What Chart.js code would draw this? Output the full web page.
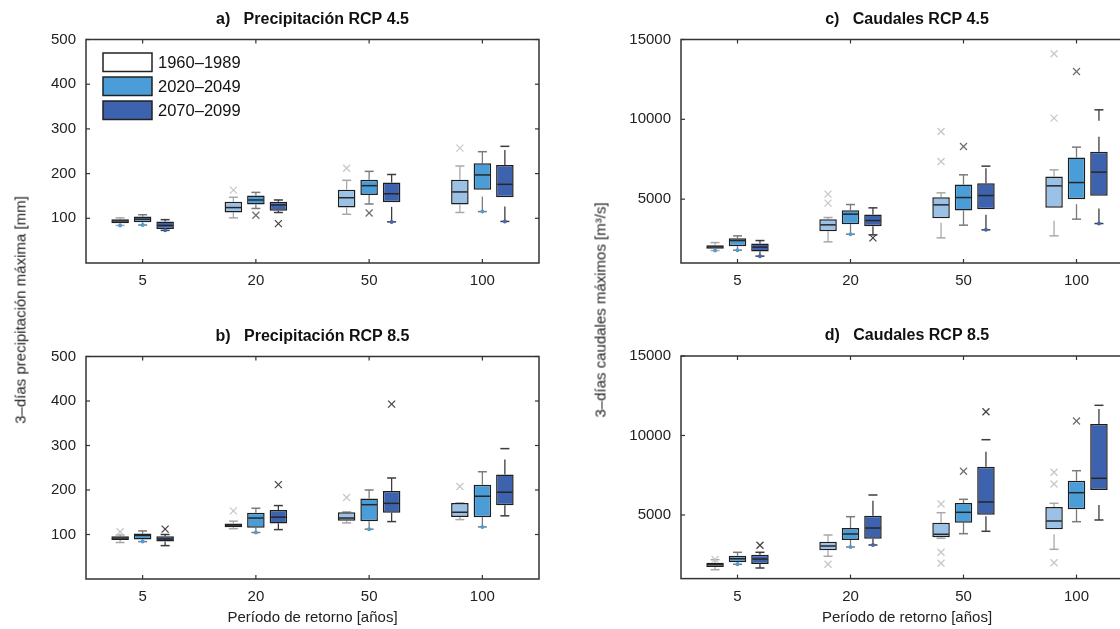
<!DOCTYPE html>
<html>
<head>
<meta charset="utf-8">
<script src="https://cdn.jsdelivr.net/npm/chart.js@4.4.1/dist/chart.umd.min.js"></script>
<style>
  html, body { margin: 0; padding: 0; background: #fff; }
  #page { position: relative; width: 1120px; height: 629px; overflow: hidden; background: #fff;
          font-family: 'Liberation Sans', Arial, sans-serif; }
  canvas { position: absolute; }
  .ylab { position: absolute; font-size: 15px; color: #222; white-space: nowrap;
          transform: translate(-50%, -50%) rotate(-90deg); }
</style>
</head>
<body>
<div id="page">
  <canvas id="pa" width="560" height="300" style="left:0;top:0"></canvas>
  <canvas id="pb" width="560" height="329" style="left:0;top:300px"></canvas>
  <canvas id="pc" width="600" height="300" style="left:580px;top:0"></canvas>
  <canvas id="pd" width="600" height="329" style="left:580px;top:300px"></canvas>
  <div class="ylab" style="left:20px;top:310px">3–días precipitación máxima [mm]</div>
  <div class="ylab" style="left:600px;top:310px">3–días caudales máximos [m³/s]</div>
</div>
<script>
const categories = ['5', '20', '50', '100'];
const periods = ['1960–1989', '2020–2049', '2070–2099'];
const precipTicks = [100, 200, 300, 400, 500];
const caudalTicks = [5000, 10000, 15000];

// cada caja: [min, q1, mediana, q3, max] por período de retorno
const precip45_1960 = [[84, 89, 94, 98, 101], [101, 113, 124, 137, 147], [109, 124, 146, 164, 185], [113, 131, 159, 186, 217]];
const precip45_2020 = [[85, 91, 98, 104, 108], [122, 131, 141, 151, 158], [132, 152, 173, 186, 205], [115, 164, 197, 223, 249]];
const precip45_2070 = [[73, 76, 84, 93, 97], [113, 117, 130, 137, 141], [92, 136, 155, 180, 198], [93, 147, 176, 219, 261]];
const precip45_out1960 = [[], [163], [212], [257]];
const precip45_out2020 = [[], [107], [112], []];
const precip45_out2070 = [[], [88], [], []];
const precip45_dots = [[1, 0, 0, 0], [1, 0, 0, 1], [1, 0, 1, 1]];

const precip85_1960 = [[82, 87.5, 92, 96, 99], [113, 116.5, 121, 125, 130], [126, 131, 137, 150, 151], [133.5, 139.5, 150, 171, 171]];
const precip85_2020 = [[84, 89, 98, 102, 108], [104.5, 115, 137, 149, 159], [112, 130, 167, 181, 200], [117, 139, 186, 212, 241]];
const precip85_2070 = [[75, 84, 90, 96, 100], [111, 125, 139, 155, 165], [129, 149, 170, 198, 227], [142, 166, 195, 235, 293]];
const precip85_out1960 = [[106], [153], [183], [208]];
const precip85_out2020 = [[], [], [], []];
const precip85_out2070 = [[112], [212], [393], []];
const precip85_dots = [[0, 0, 0, 0], [1, 1, 1, 1], [0, 0, 0, 0]];

const caudal45_1960 = [[1780, 1886, 2010, 2118, 2280], [2325, 2995, 3390, 3747, 3850], [2575, 3810, 4643, 5125, 5395], [2700, 4455, 5833, 6416, 6836]];
const caudal45_2020 = [[1805, 2055, 2406, 2556, 2700], [2807, 3433, 4060, 4310, 4662], [3371, 4286, 5100, 5915, 6523], [3747, 5000, 6040, 7606, 8258]];
const caudal45_2070 = [[1430, 1717, 1993, 2218, 2406], [2763, 3308, 3660, 4035, 4455], [3076, 4373, 5226, 6002, 7068], [3471, 5207, 6692, 7964, 10595]];
const caudal45_out1960 = [[], [4750, 5313], [7356, 9236], [10075, 14104]];
const caudal45_out2020 = [[], [], [8296], [12995]];
const caudal45_out2070 = [[], [2575], [], []];
const caudal45_dots = [[1, 0, 0, 0], [1, 1, 0, 0], [1, 0, 1, 1]];

const caudal85_1960 = [[1560, 1730, 1874, 2000, 2189], [2403, 2780, 3050, 3321, 3742], [3535, 3597, 3786, 4516, 5145], [2843, 4100, 4623, 5503, 5736]];
const caudal85_2020 = [[1900, 2025, 2250, 2440, 2654], [2987, 3428, 3805, 4182, 4893], [3825, 4516, 5170, 5755, 5987], [4579, 5358, 6403, 7157, 7786]];
const caudal85_2070 = [[1667, 1918, 2233, 2503, 2654], [3113, 3509, 4182, 4956, 6258], [3975, 5019, 5818, 8038, 9736], [4686, 6572, 7308, 10723, 11899]];
const caudal85_out1960 = [[2210], [1900], [5692, 2654, 1962], [7686, 6950, 2000]];
const caudal85_out2020 = [[], [], [7748], [10912]];
const caudal85_out2070 = [[3094], [], [11497], []];
const caudal85_dots = [[0, 0, 0, 0], [1, 1, 0, 0], [0, 1, 0, 0]];

const boxColors = ['#9bc2e6', '#4a9dd6', '#3e63ae'];
const legendColors = ['#ffffff', '#4a9dd6', '#3e63ae'];
const whiskerColors = ['#a8a8a8', '#7a7a7a', '#3c3c3c'];
const outlierColors = ['#c8c8c8', '#6e6e6e', '#444444'];
const dotColors = ['#5b9bd5', '#4a9dd6', '#4266b8'];
const FONT = "'Liberation Sans', Arial, sans-serif";

function seg(ctx, x1, y1, x2, y2) {
    ctx.beginPath(); ctx.moveTo(x1, y1); ctx.lineTo(x2, y2); ctx.stroke();
}

// dibuja bigotes, medianas, atípicos, marco y textos con las escalas del gráfico
function boxPlugin(cfg) {
    return {
        id: 'boxplot',
        beforeDatasetsDraw(chart) {
            const ctx = chart.ctx, y = chart.scales.y;
            cfg.stats.forEach((series, i) => {
                const meta = chart.getDatasetMeta(i);
                series.forEach((s, j) => {
                    const x = meta.data[j].x;
                    ctx.save();
                    ctx.strokeStyle = whiskerColors[i];
                    ctx.lineWidth = 1.3;
                    ctx.setLineDash([15, 16]);
                    seg(ctx, x, y.getPixelForValue(s[0]), x, y.getPixelForValue(s[1]));
                    seg(ctx, x, y.getPixelForValue(s[3]), x, y.getPixelForValue(s[4]));
                    ctx.setLineDash([]);
                    ctx.lineWidth = 1.5;
                    seg(ctx, x - 4.5, y.getPixelForValue(s[0]), x + 4.5, y.getPixelForValue(s[0]));
                    seg(ctx, x - 4.5, y.getPixelForValue(s[4]), x + 4.5, y.getPixelForValue(s[4]));
                    ctx.restore();
                });
            });
        },
        afterDatasetsDraw(chart) {
            const ctx = chart.ctx, y = chart.scales.y;
            cfg.stats.forEach((series, i) => {
                const meta = chart.getDatasetMeta(i);
                series.forEach((s, j) => {
                    const bar = meta.data[j], x = bar.x, hw = bar.width / 2;
                    ctx.save();
                    ctx.strokeStyle = '#262626';
                    ctx.lineWidth = 1.5;
                    seg(ctx, x - hw + 1, y.getPixelForValue(s[2]), x + hw - 1, y.getPixelForValue(s[2]));
                    ctx.strokeStyle = outlierColors[i];
                    ctx.lineWidth = 1.3;
                    cfg.outliers[i][j].forEach(v => {
                        const py = y.getPixelForValue(v);
                        seg(ctx, x - 3.5, py - 3.5, x + 3.5, py + 3.5);
                        seg(ctx, x - 3.5, py + 3.5, x + 3.5, py - 3.5);
                    });
                    if (cfg.dots[i][j]) {
                        ctx.fillStyle = dotColors[i];
                        ctx.beginPath();
                        ctx.arc(x, y.getPixelForValue(s[0]), 2, 0, Math.PI * 2);
                        ctx.fill();
                    }
                    ctx.restore();
                });
            });
        },
        afterDraw(chart) {
            const ctx = chart.ctx, a = chart.chartArea, y = chart.scales.y, xs = chart.scales.x;
            ctx.save();
            ctx.strokeStyle = '#333';
            ctx.lineWidth = 1.5;
            ctx.strokeRect(a.left, a.top, a.right - a.left, a.bottom - a.top);
            ctx.lineWidth = 1.2;
            cfg.yTicks.forEach(v => {
                const py = y.getPixelForValue(v);
                seg(ctx, a.left, py, a.left + 4, py);
                seg(ctx, a.right, py, a.right - 4, py);
            });
            categories.forEach((c, j) => {
                const px = xs.getPixelForValue(j);
                seg(ctx, px, a.bottom, px, a.bottom - 4);
                seg(ctx, px, a.top, px, a.top + 4);
            });
            ctx.fillStyle = '#111';
            ctx.textAlign = 'center';
            ctx.textBaseline = 'alphabetic';
            ctx.font = 'bold 16px ' + FONT;
            ctx.fillText(cfg.title, (a.left + a.right) / 2, a.top - 16);
            if (cfg.xTitle) {
                ctx.font = '15px ' + FONT;
                ctx.fillStyle = '#222';
                ctx.fillText(cfg.xTitle, (a.left + a.right) / 2, a.bottom + 43);
            }
            if (cfg.legend) {
                periods.forEach((p, i) => {
                    const top = a.top + 13.5 + i * 24;
                    ctx.fillStyle = legendColors[i];
                    ctx.fillRect(a.left + 17, top, 49, 18.5);
                    ctx.strokeStyle = '#222';
                    ctx.lineWidth = 1.5;
                    ctx.strokeRect(a.left + 17, top, 49, 18.5);
                    ctx.fillStyle = '#111';
                    ctx.textAlign = 'left';
                    ctx.textBaseline = 'middle';
                    ctx.font = '16.5px ' + FONT;
                    ctx.fillText(p, a.left + 72, top + 10);
                });
            }
            ctx.restore();
        }
    };
}

function makePanel(id, cfg) {
    new Chart(document.getElementById(id), {
        type: 'bar',
        data: {
            labels: categories,
            datasets: cfg.stats.map((series, i) => ({
                label: periods[i],
                data: series.map(s => [s[1], s[3]]),
                backgroundColor: boxColors[i],
                borderColor: '#1e1e1e',
                borderWidth: 1.5,
                borderSkipped: false,
                categoryPercentage: 0.596,
                barPercentage: 0.78
            }))
        },
        options: {
            responsive: false,
            animation: false,
            events: [],
            layout: { padding: cfg.padding },
            plugins: { legend: { display: false }, tooltip: { enabled: false } },
            scales: {
                x: {
                    grid: { display: false, drawTicks: false },
                    border: { display: false },
                    ticks: { color: '#222', font: { family: FONT, size: 15 }, padding: 9, maxRotation: 0 },
                    afterFit: s => { s.height = cfg.xHeight; }
                },
                y: {
                    min: cfg.yMin,
                    max: cfg.yMax,
                    grid: { display: false, drawTicks: false },
                    border: { display: false },
                    ticks: { color: '#222', font: { family: FONT, size: 15 }, padding: 10,
                             callback: v => String(v) },
                    afterBuildTicks: s => { s.ticks = cfg.yTicks.map(v => ({ value: v })); },
                    afterFit: s => { s.width = cfg.yWidth; }
                }
            }
        },
        plugins: [boxPlugin(cfg)]
    });
}

makePanel('pa', {
    title: 'a)   Precipitación RCP 4.5', legend: true,
    stats: [precip45_1960, precip45_2020, precip45_2070],
    outliers: [precip45_out1960, precip45_out2020, precip45_out2070],
    dots: precip45_dots,
    yMin: 0, yMax: 500, yTicks: precipTicks,
    padding: { top: 39.5, left: 0, right: 21, bottom: 0 }, yWidth: 86, xHeight: 37
});
makePanel('pb', {
    title: 'b)   Precipitación RCP 8.5', xTitle: 'Período de retorno [años]',
    stats: [precip85_1960, precip85_2020, precip85_2070],
    outliers: [precip85_out1960, precip85_out2020, precip85_out2070],
    dots: precip85_dots,
    yMin: 0, yMax: 500, yTicks: precipTicks,
    padding: { top: 56.5, left: 0, right: 21, bottom: 0 }, yWidth: 86, xHeight: 50
});
makePanel('pc', {
    title: 'c)   Caudales RCP 4.5',
    stats: [caudal45_1960, caudal45_2020, caudal45_2070],
    outliers: [caudal45_out1960, caudal45_out2020, caudal45_out2070],
    dots: caudal45_dots,
    yMin: 1000, yMax: 15000, yTicks: caudalTicks,
    padding: { top: 39.5, left: 0, right: 47, bottom: 0 }, yWidth: 101, xHeight: 37
});
makePanel('pd', {
    title: 'd)   Caudales RCP 8.5', xTitle: 'Período de retorno [años]',
    stats: [caudal85_1960, caudal85_2020, caudal85_2070],
    outliers: [caudal85_out1960, caudal85_out2020, caudal85_out2070],
    dots: caudal85_dots,
    yMin: 1000, yMax: 15000, yTicks: caudalTicks,
    padding: { top: 56, left: 0, right: 47, bottom: 0 }, yWidth: 101, xHeight: 50.4
});
</script>
</body>
</html>
